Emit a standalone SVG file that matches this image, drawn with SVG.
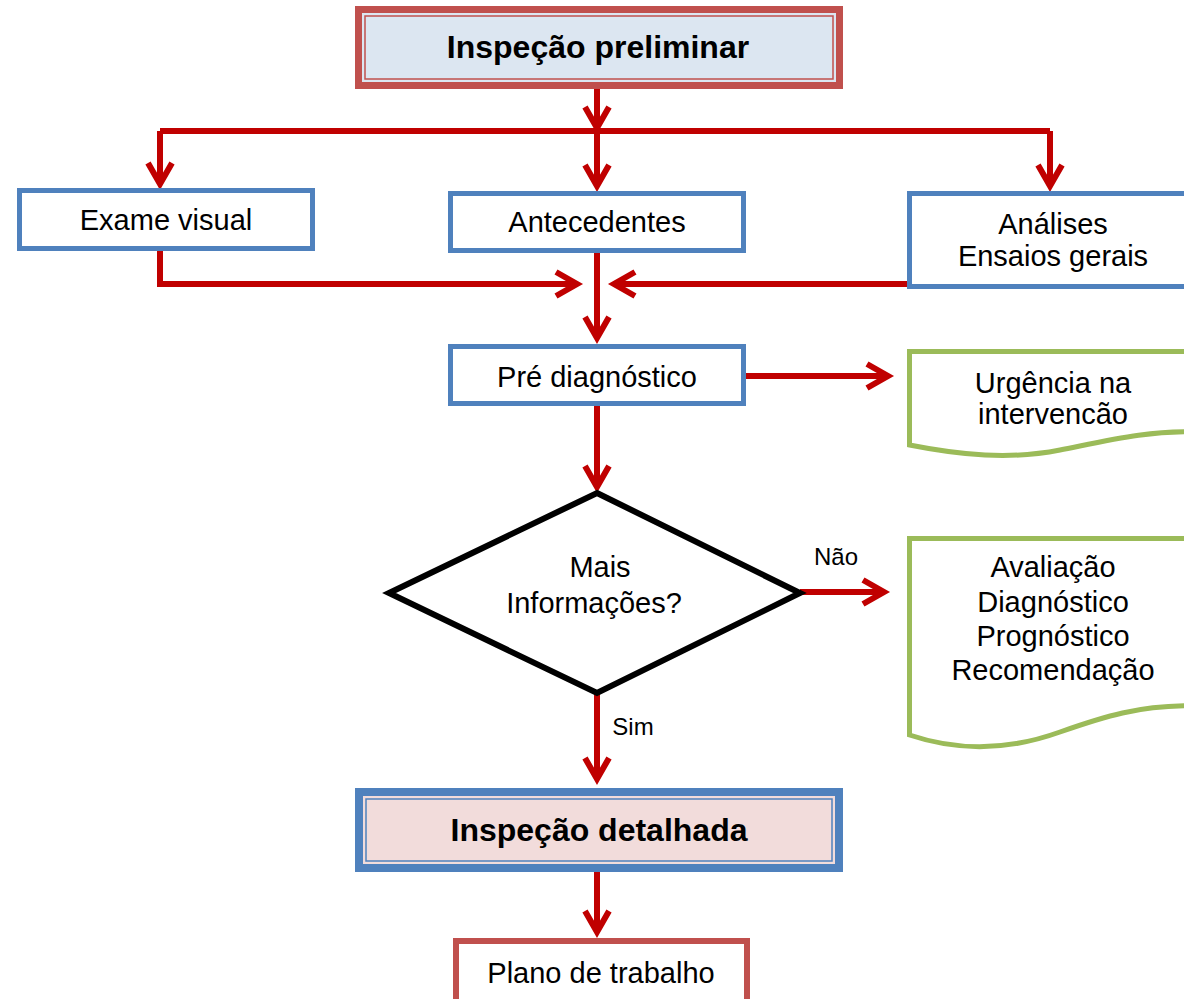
<svg xmlns="http://www.w3.org/2000/svg" width="1184" height="999" viewBox="0 0 1184 999">
<defs>
<style>
.t{font-family:"Liberation Sans",Arial,sans-serif;font-size:29px;fill:#000;text-anchor:middle}
.b{font-family:"Liberation Sans",Arial,sans-serif;font-size:32px;font-weight:bold;fill:#000;text-anchor:middle}
.s{font-family:"Liberation Sans",Arial,sans-serif;font-size:24px;fill:#000;text-anchor:middle}
.blue{fill:#fff;stroke:#4f81bd;stroke-width:5}
.green{fill:#fff;stroke:#9bbb59;stroke-width:5;stroke-linejoin:miter}
.c{fill:none;stroke:#c00000;stroke-width:6;marker-end:url(#ah)}
.cn{fill:none;stroke:#c00000;stroke-width:6}
</style>
<marker id="ah" markerUnits="userSpaceOnUse" viewBox="0 0 30 30" markerWidth="30" markerHeight="30" refX="25" refY="15" orient="auto" overflow="visible">
<path d="M4,3 L25,15 L4,27" fill="none" stroke="#c00000" stroke-width="6"/>
</marker>
</defs>
<rect width="1184" height="999" fill="#fff"/>

<g id="connectors">
<path class="c" d="M597,89 V128"/>
<path class="cn" d="M160,131 H1050"/>
<path class="c" d="M160,131 V184"/>
<path class="c" d="M597,131 V186"/>
<path class="c" d="M1050,131 V186"/>
<path class="c" d="M160,250 V284 H577"/>
<path class="c" d="M907,284 H614"/>
<path class="c" d="M597,252 V338"/>
<path class="c" d="M745,376 H888"/>
<path class="c" d="M597,405 V487"/>
<path class="c" d="M800,592 H884"/>
<path class="c" d="M597,693 V779"/>
<path class="c" d="M597,872 V932"/>
<text class="s" x="836" y="565">Não</text>
<text class="s" x="633" y="735">Sim</text>
</g>

<g id="inspecao-preliminar">
<rect x="358.5" y="9.5" width="481" height="76" fill="#dce6f1" stroke="#c0504d" stroke-width="7"/>
<rect x="365" y="16" width="468" height="63" fill="#dce6f1" stroke="#c0504d" stroke-width="1.5"/>
<text class="b" x="598" y="58">Inspeção preliminar</text>
</g>

<g id="exame-visual">
<rect class="blue" x="19.5" y="190.5" width="293" height="58"/>
<text class="t" x="166" y="230">Exame visual</text>
</g>

<g id="antecedentes">
<rect class="blue" x="450.5" y="193.5" width="293" height="57"/>
<text class="t" x="597" y="232">Antecedentes</text>
</g>

<g id="analises">
<rect class="blue" x="909.5" y="193.5" width="290" height="93"/>
<text class="t" x="1053" y="234">Análises</text>
<text class="t" x="1053" y="266">Ensaios gerais</text>
</g>

<g id="pre-diagnostico">
<rect class="blue" x="450.5" y="346.5" width="293" height="57"/>
<text class="t" x="597" y="387">Pré diagnóstico</text>
</g>

<g id="urgencia">
<path class="green" d="M909.5,351.5 H1200 V432 C1150,430 1110,440 1060,450 C1010,460 960,455 909.5,445 Z"/>
<text class="t" x="1053" y="393">Urgência na</text>
<text class="t" x="1053" y="424">intervencão</text>
</g>

<g id="decisao">
<polygon points="597,493 800,593 597,693 389,593" fill="#fff" stroke="#000" stroke-width="6" stroke-linejoin="miter"/>
<text class="t" x="600" y="577">Mais</text>
<text class="t" x="594" y="613">Informações?</text>
</g>

<g id="avaliacao">
<path class="green" d="M909.5,538.5 H1200 V706 C1140,704 1100,718 1060,732 C1010,750 960,752 909.5,735 Z"/>
<text class="t" x="1053" y="577">Avaliação</text>
<text class="t" x="1053" y="612">Diagnóstico</text>
<text class="t" x="1053" y="646">Prognóstico</text>
<text class="t" x="1053" y="680">Recomendação</text>
</g>

<g id="inspecao-detalhada">
<rect x="359" y="792" width="480" height="76" fill="#f2dcdb" stroke="#4f81bd" stroke-width="8"/>
<rect x="366" y="799" width="466" height="62" fill="#f2dcdb" stroke="#4f81bd" stroke-width="1.5"/>
<text class="b" x="599" y="841">Inspeção detalhada</text>
</g>

<g id="plano-de-trabalho">
<rect x="456" y="941" width="291" height="70" fill="#fff" stroke="#c0504d" stroke-width="6"/>
<text class="t" x="601" y="983">Plano de trabalho</text>
</g>
</svg>
